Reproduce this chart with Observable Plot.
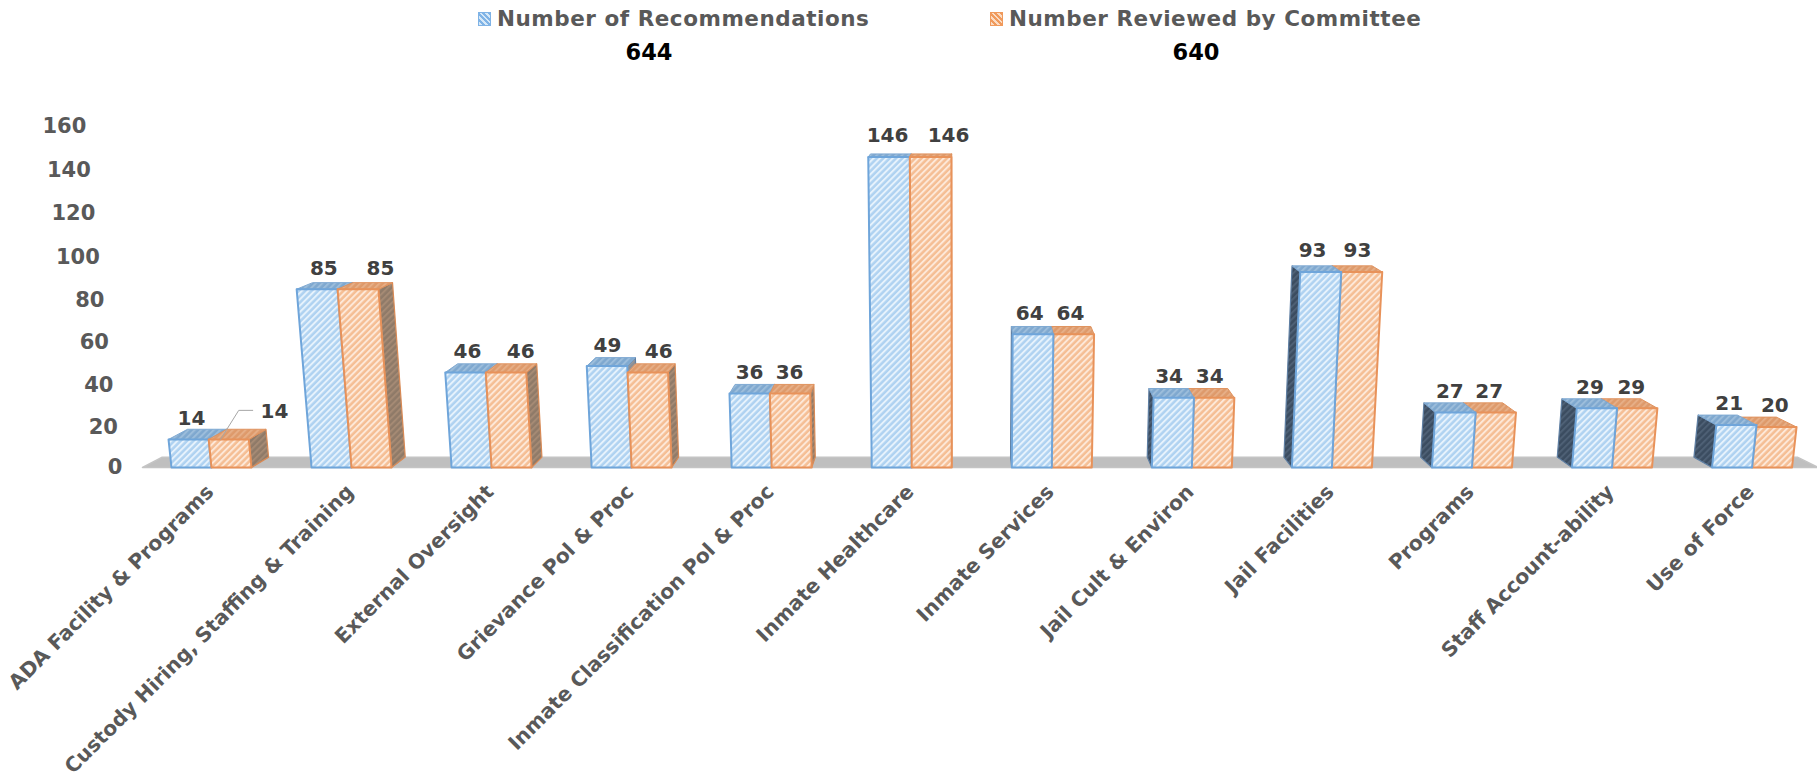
<!DOCTYPE html>
<html><head><meta charset="utf-8">
<script src="https://cdn.jsdelivr.net/npm/d3@7"></script>
<script src="https://cdn.jsdelivr.net/npm/@observablehq/plot@0.6"></script>
<style>
html,body{margin:0;padding:0;background:#fff}
#legend{position:relative;width:1817px;height:75px;font-family:"DejaVu Sans",sans-serif;font-weight:bold}
#legend div{position:absolute;white-space:nowrap}
.name{color:#595959;font-size:21.5px;letter-spacing:.53px;line-height:24px;top:7px}
.total{color:#000;font-size:22.5px;line-height:24px;top:40px;transform:translateX(-50%)}
.sw{top:12px;width:13px;height:14px}
svg{display:block}
</style></head><body>
<div id="legend"></div>
<div id="chart"></div>
<script>
const categories = ["ADA Facility & Programs","Custody Hiring, Staffing & Training","External Oversight","Grievance Pol & Proc","Inmate Classification Pol & Proc","Inmate Healthcare","Inmate Services","Jail Cult & Environ","Jail Facilities","Programs","Staff Account-ability","Use of Force"];
const recommendations = [14,85,46,49,36,146,64,34,93,27,29,21];
const reviewed = [14,85,46,46,36,146,64,34,93,27,29,20];
const seriesNames = ["Number of Recommendations","Number Reviewed by Committee"];
const totals = [644,640];
const yTicks = [0,20,40,60,80,100,120,140,160];

// 3-D projection in slot/value units
const barW = 0.2856, sc = 5.634, k = 0.00027, depthX = 0.0241;
const px = (s, v) => s + (s - sc) * k * v;
const P = (s, d, v) => {
  const x0 = px(s, v);
  return {x: x0 + d * (sc - x0) * depthX, y: v + d * (5.3 - 0.0265 * v)};
};
const faces = [];
let id = 0;
function poly(pts, fill, stroke, sw){ id++; for (const p of [...pts, pts[0]]) faces.push({...p, id, fill, stroke, sw}); }
function box(s, v, c){
  const w = barW, e = s + w;
  if (s + w < sc) poly([P(e,0,0),P(e,1,0),P(e,1,v),P(e,0,v)], c.right, c.edgeSide, 1.2);
  if (s > sc - w) poly([P(s,0,0),P(s,1,0),P(s,1,v),P(s,0,v)], c.left, c.edgeSide, 1.2);
  poly([P(s,0,v),P(s,1,v),P(e,1,v),P(e,0,v)], c.top, c.edgeTop, 1);
  poly([P(s,0,0),P(e,0,0),P(e,0,v),P(s,0,v)], c.front, c.edge, 2);
}
const blue = {front:"url(#hb)",top:"url(#tb)",right:"url(#rb)",left:"url(#lb)",edge:"#6FA5DA",edgeTop:"#7FA9D2",edgeSide:"#5F7FA3"};
const orange = {front:"url(#ho)",top:"url(#to)",right:"url(#ro)",left:"url(#lo)",edge:"#E8925A",edgeTop:"#E0935F",edgeSide:"#D98A55"};
categories.forEach((c,i)=>{
  if (i < 6){ box(i, recommendations[i], blue); box(i+barW, reviewed[i], orange); }
  else { box(i+barW, reviewed[i], orange); box(i, recommendations[i], blue); }
});
const L = -0.207, R = 11.757;
const floor = [P(L,0,0),P(R,0,0),P(R,1,0),P(L,1,0),P(L,0,0)];

const nudgeA = [0,-0.055,-0.03,-0.03,-0.015,-0.03,-0.015,-0.02,0.005,-0.015,-0.015,-0.02];
const nudgeB = [0.307,0.064,0.065,0.05,-0.015,0.12,-0.01,-0.015,0.04,-0.02,-0.005,0.02];
const labels = [];
categories.forEach((c,i)=>{
  labels.push({x:i+barW/2+nudgeA[i], y:recommendations[i], t:recommendations[i]});
  labels.push({x:i+1.5*barW+nudgeB[i], y:reviewed[i], t:reviewed[i]});
});
labels[1].y = reviewed[0] + 3.4;
const leader = [
  {x:0.35, y:reviewed[0]},
  {x:0.48, y:reviewed[0]+14},
  {x:0.58, y:reviewed[0]+14}
];
const FONT = '"DejaVu Sans",sans-serif';

const defs = () => {
  const ns = "http://www.w3.org/2000/svg";
  const d = document.createElementNS(ns,"defs");
  const mk = (pid,bg,fg,size,sw) => {
    d.innerHTML += `<pattern id="${pid}" patternUnits="userSpaceOnUse" width="${size}" height="${size}" patternTransform="rotate(45)"><rect width="${size}" height="${size}" fill="${bg}"/><rect width="${sw}" height="${size}" fill="${fg}"/></pattern>`;
  };
  mk("hb","#AFD2F1","#E6F2FC",4.5,2);
  mk("ho","#F5BE94","#FDE8D8",4.5,2);
  mk("tb","#7FA8CF","#9CBDDB",4.5,2);
  mk("to","#DE9A6B","#E6AE86",4.5,2);
  mk("rb","#8D8F94","#9A9CA0",4.5,2);
  mk("ro","#8F7A68","#A58A74",4.5,2);
  mk("lb","#3B4C60","#4E6075",4.5,2);
  mk("lo","#3B4C60","#4E6075",4.5,2);
  return d;
};

const chart = Plot.plot({
  width:1817, height:705,
  marginLeft:0, marginRight:0, marginTop:0, marginBottom:0,
  x:{type:"linear", domain:[-171/140.05,(1817-171)/140.05], range:[0,1817], axis:null},
  y:{type:"pow", exponent:1.025, domain:[0,160], range:[467-75,126-75], axis:null},
  marks:[
    defs,
    Plot.line(floor,{x:"x",y:"y",fill:"#BFBFBF",stroke:"#C4C4C4",strokeWidth:1.5}),
    Plot.line(faces,{x:"x",y:"y",z:"id",
      fill:{value:"fill",scale:null}, stroke:{value:"stroke",scale:null},
      strokeWidth:"sw", strokeLinejoin:"round"}),
    Plot.line(leader,{x:"x",y:"y",stroke:"#A6A6A6",strokeWidth:1}),
    Plot.text(yTicks,{x:v=>px(-0.35,v),y:v=>v,text:v=>String(v),textAnchor:"end",fontSize:21,fontWeight:"bold",fontFamily:FONT,fill:"#595959"}),
    Plot.text(labels,{x:"x",y:"y",text:d=>String(d.t),dy:-21,fontSize:20,fontWeight:"bold",fontFamily:FONT,fill:"#404040"}),
    Plot.text(categories,{x:(c,i)=>i+barW-0.01,y:()=>0,text:c=>c,rotate:-45,textAnchor:"end",dy:21,fontSize:20.3,fontWeight:"bold",fontFamily:FONT,fill:"#595959"})
  ]
});
document.getElementById("chart").appendChild(chart);

const lg = document.getElementById("legend");
const swatch = (x,c1,c2) => `<div class="sw" style="left:${x}px;background:repeating-linear-gradient(45deg,${c1} 0 2px,${c2} 2px 4px);outline:1px solid ${c1};outline-offset:-1px"></div>`;
lg.innerHTML = swatch(478,"#7FB3E6","#D5E8F8") + `<div class="name" style="left:497px">${seriesNames[0]}</div><div class="total" style="left:649px">${totals[0]}</div>`
 + swatch(990,"#F09A5C","#FBDCC4") + `<div class="name" style="left:1009px">${seriesNames[1]}</div><div class="total" style="left:1196px">${totals[1]}</div>`;
</script>
</body></html>
